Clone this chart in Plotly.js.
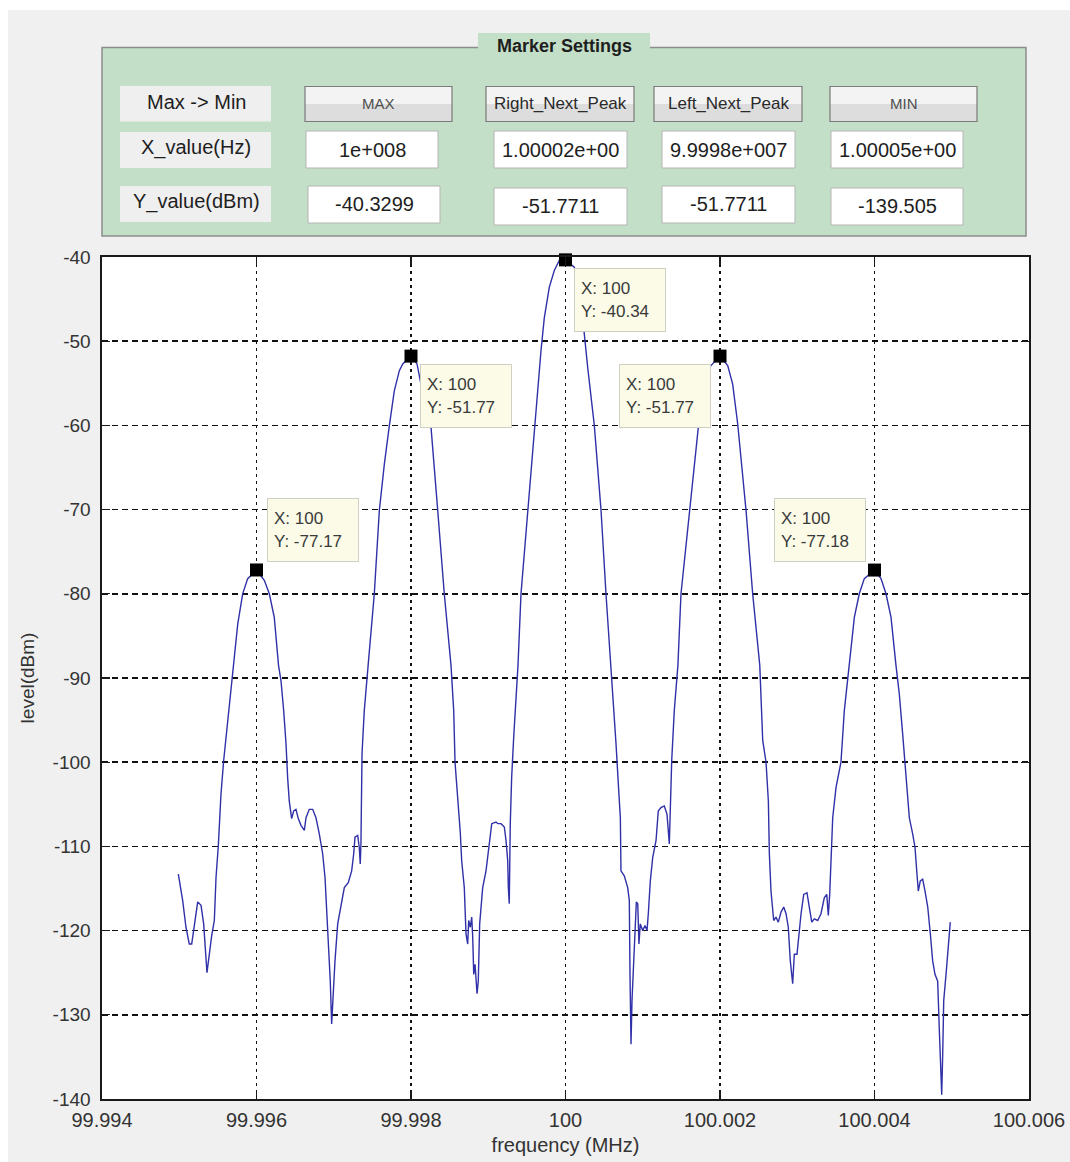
<!DOCTYPE html>
<html>
<head>
<meta charset="utf-8">
<script src="https://cdn.plot.ly/plotly-3.0.1.min.js"></script>
<style>
  html, body { margin: 0; padding: 0; background: #f0f0f0; overflow: hidden; }
  #chart { width: 1070px; height: 1162px; overflow: hidden; }
</style>
</head>
<body>
<div id="chart"></div>
<script>
// ---------------- data ----------------
const frequencyMHz = [
  99.994988, 99.995044, 99.995087, 99.995130, 99.995161, 99.995195, 99.995239, 99.995282,
  99.995316, 99.995359, 99.995389, 99.995420, 99.995454, 99.995476, 99.995506, 99.995540,
  99.995575, 99.995618, 99.995679, 99.995757, 99.995821, 99.995886, 99.996000, 99.996101,
  99.996166, 99.996230, 99.996285, 99.996317, 99.996352, 99.996382, 99.996403, 99.996424,
  99.996455, 99.996481, 99.996511, 99.996541, 99.996576, 99.996619, 99.996641, 99.996683,
  99.996727, 99.996770, 99.996813, 99.996857, 99.996887, 99.996913, 99.996934, 99.996955,
  99.996973, 99.996990, 99.997016, 99.997051, 99.997103, 99.997137, 99.997188, 99.997232,
  99.997258, 99.997275, 99.997310, 99.997330, 99.997343, 99.997352, 99.997366, 99.997395,
  99.997445, 99.997525, 99.997590, 99.997655, 99.997720, 99.997784, 99.997849, 99.997893,
  99.998000, 99.998078, 99.998129, 99.998259, 99.998346, 99.998431, 99.998518, 99.998553,
  99.998570, 99.998605, 99.998639, 99.998656, 99.998690, 99.998712, 99.998734, 99.998747,
  99.998768, 99.998786, 99.998799, 99.998812, 99.998829, 99.998855, 99.998871, 99.998889,
  99.998928, 99.998971, 99.999014, 99.999045, 99.999101, 99.999123, 99.999165, 99.999208,
  99.999230, 99.999252, 99.999260, 99.999272, 99.999285, 99.999303, 99.999329, 99.999359,
  99.999385, 99.999424, 99.999511, 99.999596, 99.999683, 99.999726, 99.999790, 99.999855,
  99.999920, 100.000000, 100.000114, 100.000222, 100.000287, 100.000373, 100.000460, 100.000524,
  100.000589, 100.000624, 100.000654, 100.000684, 100.000710, 100.000718, 100.000761, 100.000805,
  100.000826, 100.000835, 100.000848, 100.000861, 100.000883, 100.000900, 100.000917, 100.000935,
  100.000951, 100.000968, 100.000999, 100.001029, 100.001055, 100.001072, 100.001098, 100.001129,
  100.001172, 100.001201, 100.001236, 100.001279, 100.001314, 100.001344, 100.001357, 100.001375,
  100.001408, 100.001443, 100.001455, 100.001495, 100.001603, 100.001689, 100.001732, 100.001841,
  100.001883, 100.002000, 100.002100, 100.002164, 100.002229, 100.002337, 100.002423, 100.002515,
  100.002553, 100.002596, 100.002626, 100.002639, 100.002660, 100.002695, 100.002725, 100.002755,
  100.002790, 100.002825, 100.002855, 100.002884, 100.002910, 100.002941, 100.002962, 100.002997,
  100.003014, 100.003049, 100.003084, 100.003126, 100.003156, 100.003188, 100.003221, 100.003265,
  100.003307, 100.003350, 100.003382, 100.003402, 100.003420, 100.003437, 100.003459, 100.003502,
  100.003566, 100.003609, 100.003661, 100.003739, 100.003803, 100.003868, 100.004000, 100.004084,
  100.004149, 100.004214, 100.004278, 100.004321, 100.004365, 100.004408, 100.004451, 100.004494,
  100.004524, 100.004550, 100.004567, 100.004593, 100.004624, 100.004654, 100.004689, 100.004723,
  100.004753, 100.004783, 100.004818, 100.004838, 100.004851, 100.004870, 100.004883, 100.004896,
  100.004926, 100.004955, 100.004981
];
const levelDBm = [
  -113.3, -116.4, -119.6, -121.6, -121.6, -119.6, -116.6, -117.0,
  -119.2, -125.0, -122.8, -120.6, -118.8, -113.7, -109.9, -103.8,
  -99.8, -95.9, -89.9, -83.6, -80.0, -78.2, -77.17, -78.4,
  -80.0, -82.8, -88.5, -90.3, -93.9, -97.8, -101.8, -104.6,
  -106.7, -105.8, -105.6, -106.7, -107.5, -108.1, -106.6, -105.6,
  -105.6, -106.6, -108.5, -110.9, -113.7, -118.0, -122.8, -126.0,
  -131.1, -127.9, -123.6, -119.2, -116.5, -114.9, -114.3, -112.9,
  -110.9, -108.9, -108.7, -110.1, -112.1, -109.7, -99.0, -93.9,
  -88.5, -80.0, -70.1, -64.6, -60.0, -55.9, -53.5, -52.7,
  -51.77, -52.7, -55.1, -60.2, -70.1, -80.0, -88.5, -93.9,
  -100.0, -103.8, -108.5, -111.7, -114.9, -120.4, -121.6, -118.8,
  -119.6, -118.4, -120.8, -125.2, -124.0, -127.5, -126.0, -119.2,
  -114.9, -112.9, -109.7, -107.3, -107.1, -107.3, -107.3, -107.7,
  -109.3, -111.7, -114.9, -116.8, -107.3, -101.8, -97.1, -92.7,
  -88.5, -80.0, -70.1, -60.0, -51.1, -47.2, -43.6, -41.6,
  -40.4, -40.34, -41.2, -47.2, -53.1, -60.0, -70.1, -80.0,
  -88.5, -92.7, -97.8, -102.6, -106.6, -112.9, -113.5, -114.9,
  -116.4, -125.2, -133.5, -128.3, -122.8, -119.6, -116.6, -116.8,
  -121.6, -119.2, -120.0, -119.4, -120.0, -118.0, -114.1, -111.3,
  -109.3, -105.8, -105.4, -105.2, -106.2, -109.7, -106.2, -99.8,
  -93.9, -89.9, -88.5, -80.0, -70.1, -62.2, -59.1, -53.5,
  -52.9, -51.77, -52.9, -55.1, -59.8, -70.1, -80.0, -88.5,
  -97.4, -100.0, -104.6, -110.9, -115.3, -118.8, -118.4, -119.0,
  -117.8, -117.2, -118.0, -119.6, -123.6, -126.3, -122.8, -122.8,
  -121.2, -118.0, -115.7, -115.5, -117.2, -119.0, -118.6, -118.8,
  -118.0, -116.1, -115.7, -118.2, -115.7, -110.9, -106.6, -103.0,
  -100.0, -93.9, -89.5, -82.8, -80.0, -78.2, -77.18, -78.2,
  -80.0, -82.8, -88.5, -91.9, -96.7, -101.8, -106.6, -108.5,
  -110.1, -113.3, -115.3, -114.1, -113.9, -115.3, -117.2, -120.4,
  -123.6, -125.2, -126.0, -131.5, -134.7, -139.5, -134.7, -128.3,
  -125.2, -121.6, -119.0
];

// data-tip markers
const peakFreqMHz = [99.996, 99.998, 100.000, 100.002, 100.004];
const peakLevelDBm = [-77.17, -51.77, -40.34, -51.77, -77.18];

// axis ticks
const xTickVals = [99.994, 99.996, 99.998, 100, 100.002, 100.004, 100.006];
const xTickText = ['99.994', '99.996', '99.998', '100', '100.002', '100.004', '100.006'];
const yTickVals = [-40, -50, -60, -70, -80, -90, -100, -110, -120, -130, -140];
const yTickText = ['-40', '-50', '-60', '-70', '-80', '-90', '-100', '-110', '-120', '-130', '-140'];

// marker settings panel
const panelTitle = 'Marker Settings';
const rowLabels = ['Max -> Min', 'X_value(Hz)', 'Y_value(dBm)'];
const buttonLabels = ['MAX', 'Right_Next_Peak', 'Left_Next_Peak', 'MIN'];
const xValueTexts = ['1e+008', '1.00002e+00', '9.9998e+007', '1.00005e+00'];
const yValueTexts = ['-40.3299', '-51.7711', '-51.7711', '-139.505'];

// ---------------- layout geometry (pixels) ----------------
const W = 1070, H = 1162;
const M = { l: 102, r: 41, t: 257, b: 63 };
const PW = W - M.l - M.r, PH = H - M.t - M.b;
const px = x => (x - M.l) / PW;
const py = y => (H - M.b - y) / PH;
const FONT = 'Liberation Sans, Arial, Helvetica, sans-serif';

const shapes = [];
const annotations = [];

function rect(x0, y0, x1, y1, fill, line, lw) {
  shapes.push({
    type: 'rect', xref: 'paper', yref: 'paper', layer: 'above',
    x0: px(x0), x1: px(x1), y0: py(y1), y1: py(y0),
    fillcolor: fill, line: { color: line || 'rgba(0,0,0,0)', width: lw || 0 }
  });
}
function label(text, cx, cy, size, color, extra) {
  annotations.push(Object.assign({
    xref: 'paper', yref: 'paper', x: px(cx), y: py(cy),
    xanchor: 'center', yanchor: 'middle', showarrow: false, text: text,
    font: { family: FONT, size: size, color: color }
  }, extra || {}));
}

// white strips at the top / left image edge
shapes.push({ type: 'rect', xref: 'paper', yref: 'paper', layer: 'below',
  x0: px(0), x1: px(W), y0: py(10), y1: py(0), fillcolor: '#ffffff', line: { width: 0 } });
shapes.push({ type: 'rect', xref: 'paper', yref: 'paper', layer: 'below',
  x0: px(0), x1: px(8), y0: py(H), y1: py(0), fillcolor: '#ffffff', line: { width: 0 } });

// panel
const GREEN = '#c4dfc7';
rect(102, 47.5, 1026, 236, GREEN, '#8c8c8c', 1.5);
rect(478, 33, 650, 57, GREEN);
label('<b>' + panelTitle + '</b>', 564, 46, 18, '#1e1e1e');

const rowY = [[86, 121.5], [132, 168], [186, 222]];
rowLabels.forEach((t, i) => {
  rect(120, rowY[i][0], 271, rowY[i][1], '#efefef');
  label(t, 196, (rowY[i][0] + rowY[i][1]) / 2 - 2, 20, '#1e1e1e');
});

const btnX = [[305, 452], [486, 634], [654, 802], [830, 977]];
const btnY = [86.5, 121.5];
buttonLabels.forEach((t, i) => {
  const [x0, x1] = btnX[i];
  const ym = (btnY[0] + btnY[1]) / 2;
  rect(x0, btnY[0], x1, ym, '#f3f3f3');
  rect(x0, ym, x1, btnY[1], '#dddddd');
  rect(x0, btnY[0], x1, btnY[1], 'rgba(0,0,0,0)', '#7a7a7a', 1.2);
  const small = t.length <= 3;
  label(t, (x0 + x1) / 2, ym, small ? 15 : 17, small ? '#505050' : '#2a2a2a');
});

const xBoxX = [[306, 438], [494, 627], [662, 795], [831, 963]];
const xBoxY = [131, 168];
xValueTexts.forEach((t, i) => {
  const [x0, x1] = xBoxX[i];
  rect(x0, xBoxY[0], x1, xBoxY[1], '#ffffff', '#b4b4b4', 1);
  label(t, (x0 + x1) / 2, (xBoxY[0] + xBoxY[1]) / 2, 20, '#1e1e1e');
});
const yBoxX = [[308, 440], [494, 627], [662, 795], [831, 963]];
const yBoxY = [[186, 223], [188, 225], [186, 223], [188, 225]];
yValueTexts.forEach((t, i) => {
  const [x0, x1] = yBoxX[i];
  const [y0, y1] = yBoxY[i];
  rect(x0, y0, x1, y1, '#ffffff', '#b4b4b4', 1);
  label(t, (x0 + x1) / 2, (y0 + y1) / 2, 20, '#1e1e1e');
});

// data tips
const fmt = v => String(parseFloat(v.toPrecision(4)));
const tipPlace = [
  { xa: 'left', ya: 'bottom', xs: 10, ys: 8 },
  { xa: 'left', ya: 'top', xs: 9, ys: -8 },
  { xa: 'left', ya: 'top', xs: 8, ys: -8 },
  { xa: 'right', ya: 'top', xs: -9, ys: -8 },
  { xa: 'right', ya: 'bottom', xs: -9, ys: 8 }
];
peakFreqMHz.forEach((f, i) => {
  const p = tipPlace[i];
  annotations.push({
    xref: 'x', yref: 'y', x: f, y: peakLevelDBm[i],
    xanchor: p.xa, yanchor: p.ya, xshift: p.xs, yshift: p.ys,
    showarrow: false, align: 'left', valign: 'middle',
    width: 78, height: 50, borderpad: 6,
    bgcolor: '#fbfbe7', bordercolor: '#cfcfc3', borderwidth: 1,
    text: 'X: ' + fmt(f) + '<br>Y: ' + fmt(peakLevelDBm[i]),
    font: { family: FONT, size: 17, color: '#3a3a3a' }
  });
});

// ---------------- traces ----------------
const traces = [
  {
    type: 'scatter', mode: 'lines', x: frequencyMHz, y: levelDBm,
    line: { color: '#3030a8', width: 1.4 }, hoverinfo: 'x+y', showlegend: false
  },
  {
    type: 'scatter', mode: 'markers', x: peakFreqMHz, y: peakLevelDBm,
    marker: { symbol: 'square', size: 13, color: '#000000' },
    cliponaxis: false, showlegend: false
  }
];

const axisCommon = {
  showline: true, mirror: 'ticks', linecolor: '#1a1a1a', linewidth: 1.6,
  ticks: 'inside', ticklen: 8, tickwidth: 1.4, tickcolor: '#1a1a1a',
  showgrid: true, gridcolor: '#111111', gridwidth: 1.6,
  zeroline: false, automargin: false, tickmode: 'array'
};

const layout = {
  width: W, height: H,
  margin: M,
  paper_bgcolor: '#f0f0f0',
  plot_bgcolor: '#ffffff',
  showlegend: false,
  font: { family: FONT, color: '#333333' },
  xaxis: Object.assign({}, axisCommon, {
    range: [99.994, 100.006],
    tickvals: xTickVals, ticktext: xTickText,
    griddash: '3px,4px',
    tickfont: { family: FONT, size: 20, color: '#333333' },
    ticklabelstandoff: 2,
    title: { text: 'frequency (MHz)', standoff: 8, font: { family: FONT, size: 20, color: '#333333' } }
  }),
  yaxis: Object.assign({}, axisCommon, {
    range: [-140, -40],
    tickvals: yTickVals, ticktext: yTickText,
    griddash: '6px,4px',
    tickfont: { family: FONT, size: 19, color: '#333333' },
    ticklabelstandoff: 6,
    title: { text: 'level(dBm)', standoff: 13, font: { family: FONT, size: 19, color: '#333333' } }
  }),
  shapes: shapes,
  annotations: annotations
};

Plotly.newPlot('chart', traces, layout, { displayModeBar: false, staticPlot: true });
</script>
</body>
</html>
